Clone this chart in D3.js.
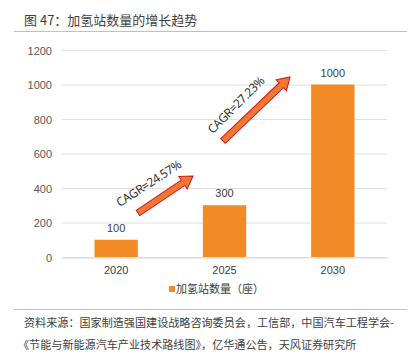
<!DOCTYPE html>
<html><head><meta charset="utf-8">
<script src="https://cdn.jsdelivr.net/npm/d3@7/dist/d3.min.js"></script>
<style>body{margin:0;background:#fff}svg{display:block;font-family:"Liberation Sans","Noto Sans CJK SC",sans-serif}</style>
</head><body>
<svg id="c" width="414" height="355"></svg>
<script>
const categories = ["2020", "2025", "2030"];
const values = [100, 300, 1000];
const yTicks = [0, 200, 400, 600, 800, 1000, 1200];
const seriesName = "加氢站数量（座）";
const cagrLabels = ["CAGR=24.57%", "CAGR=27.23%"];
const title = "图 47：加氢站数量的增长趋势";
const sourceLines = ["资料来源：国家制造强国建设战略咨询委员会，工信部，中国汽车工程学会-", "《节能与新能源汽车产业技术路线图》，亿华通公告，天风证券研究所"];

const svg = d3.select("#c");
const cjk = '"Noto Sans CJK SC",sans-serif';

svg.append("text").attr("x", 24).attr("y", 25).attr("font-family", cjk).attr("font-size", 13).attr("fill", "#3f3f3f").text(title);
svg.append("line").attr("x1", 14).attr("x2", 407).attr("y1", 31.5).attr("y2", 31.5).attr("stroke", "#f6b27c").attr("stroke-width", 1.2);

const x = d3.scaleBand().domain(categories).range([62, 387]).paddingInner(0.6).paddingOuter(0.3);
const y = d3.scaleLinear().domain([0, 1200]).range([257, 50]);

const g = svg.append("g");
g.selectAll(".grid").data(yTicks).join("line")
  .attr("x1", 62).attr("x2", 387).attr("y1", d => y(d) + 0.5).attr("y2", d => y(d) + 0.5)
  .attr("stroke", "#e0e0e0").attr("stroke-width", 1);

const yAxis = d3.axisLeft(y).tickValues(yTicks).tickFormat(d3.format("d")).tickSize(0).tickPadding(10);
const ya = svg.append("g").attr("transform", "translate(62,0.5)").call(yAxis);
ya.select(".domain").remove();
ya.selectAll("text").attr("font-size", 11).attr("fill", "#595959").attr("font-family", '"Liberation Sans",sans-serif');

g.selectAll(".bar").data(values).join("rect")
  .attr("x", (d, i) => x(categories[i])).attr("width", x.bandwidth())
  .attr("y", d => y(d)).attr("height", d => y(0) - y(d))
  .attr("fill", "#f28a26");

g.selectAll(".val").data(values).join("text")
  .attr("x", (d, i) => x(categories[i]) + x.bandwidth() / 2).attr("y", d => y(d) - 8)
  .attr("text-anchor", "middle").attr("font-size", 11).attr("fill", "#404040").text(d => d);

const xAxis = d3.axisBottom(x).tickSize(0).tickPadding(9);
const xa = svg.append("g").attr("transform", "translate(0,257.5)").call(xAxis);
xa.select(".domain").attr("stroke", "#d9d9d9");
xa.selectAll("text").attr("font-size", 11).attr("fill", "#404040").attr("font-family", '"Liberation Sans",sans-serif');

function arrow(x1, y1, x2, y2) {
  const ang = Math.atan2(y2 - y1, x2 - x1);
  const len = Math.hypot(x2 - x1, y2 - y1);
  const bw = 3.2, hw = 7.5, hl = 12;
  const pts = [[0, -bw], [len - hl, -bw], [len - hl, -hw], [len, 0], [len - hl, hw], [len - hl, bw], [0, bw]];
  svg.append("polygon")
    .attr("points", pts.map(p => p.join(",")).join(" "))
    .attr("transform", `translate(${x1},${y1}) rotate(${ang * 180 / Math.PI})`)
    .attr("fill", "#f07833").attr("stroke", "#d0161b").attr("stroke-width", 1);
}
const arrows = [
  {a: [138, 213], b: [193, 176], t: [151, 187], r: -33},
  {a: [223, 141], b: [290, 77], t: [239, 108], r: -45}
];
arrows.forEach((d, i) => {
  arrow(d.a[0], d.a[1], d.b[0], d.b[1]);
  svg.append("text").attr("transform", `translate(${d.t[0]},${d.t[1]}) rotate(${d.r})`)
    .attr("text-anchor", "middle").attr("font-family", '"Open Sans",sans-serif')
    .attr("font-size", 12).attr("fill", "#262626").attr("letter-spacing", -0.4).text(cagrLabels[i]);
});

svg.append("rect").attr("x", 169).attr("y", 286).attr("width", 6).attr("height", 6).attr("fill", "#f28a26");
svg.append("text").attr("x", 176).attr("y", 293).attr("font-family", cjk).attr("font-size", 11).attr("fill", "#404040").text(seriesName);

svg.append("line").attr("x1", 14).attr("x2", 407).attr("y1", 309.5).attr("y2", 309.5).attr("stroke", "#f6b27c").attr("stroke-width", 1.2);
svg.selectAll(".src").data(sourceLines).join("text")
  .attr("x", (d, i) => i === 0 ? 24 : 18).attr("y", (d, i) => 327 + i * 22)
  .attr("font-family", cjk).attr("font-size", 11.1).attr("fill", "#404040").text(d => d);
</script>
</body></html>
